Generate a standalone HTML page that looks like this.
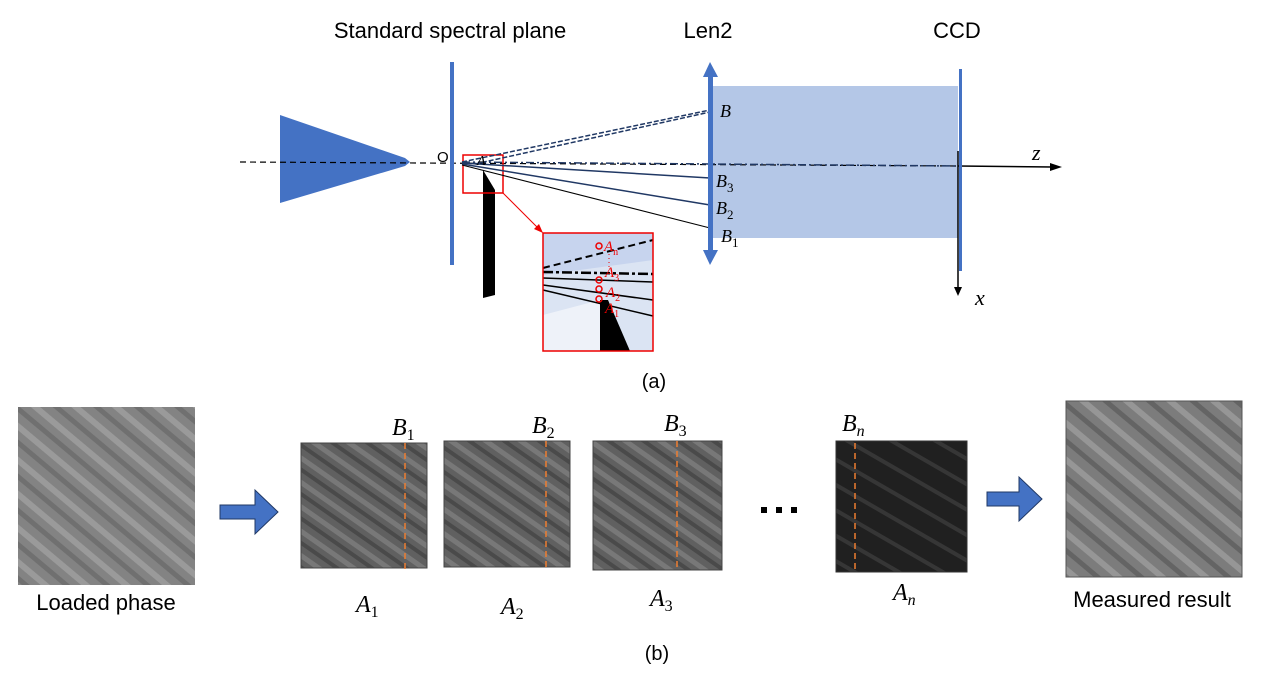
<!DOCTYPE html>
<html><head><meta charset="utf-8"><style>
body{margin:0;background:#fff}
svg{display:block}
text{font-family:"Liberation Sans",sans-serif}
text.m{font-family:"Liberation Serif",serif;font-style:italic}
</style></head><body>
<svg width="1270" height="683" viewBox="0 0 1270 683" xmlns="http://www.w3.org/2000/svg">
<defs>
<pattern id="s1" width="26" height="26" patternUnits="userSpaceOnUse" patternTransform="rotate(40)">
<rect width="26" height="26" fill="#838383"/><rect y="0" width="26" height="6" fill="#9a9a9a"/><rect y="13" width="26" height="5" fill="#707070"/></pattern>
<pattern id="s2" width="20" height="20" patternUnits="userSpaceOnUse" patternTransform="rotate(35)">
<rect width="20" height="20" fill="#606060"/><rect width="20" height="5" fill="#787878"/><rect y="10" width="20" height="4" fill="#4a4a4a"/></pattern>
<pattern id="s3" width="22" height="22" patternUnits="userSpaceOnUse" patternTransform="rotate(30)">
<rect width="22" height="22" fill="#202020"/><rect width="22" height="4" fill="#363636"/></pattern>
<pattern id="s4" width="28" height="28" patternUnits="userSpaceOnUse" patternTransform="rotate(40)">
<rect width="28" height="28" fill="#7c7c7c"/><rect width="28" height="6" fill="#969696"/><rect y="14" width="28" height="5" fill="#646464"/></pattern>
</defs>
<!-- (a) -->
<text x="450" y="38" font-size="22" text-anchor="middle">Standard spectral plane</text>
<text x="708" y="38" font-size="22" text-anchor="middle">Len2</text>
<text x="957" y="38" font-size="22" text-anchor="middle">CCD</text>
<rect x="713" y="86" width="245" height="152" fill="#b4c7e7"/>
<polygon points="280,115 405,158 410,162 405,166 280,203" fill="#4472c4"/>
<line x1="240" y1="162" x2="958" y2="166" stroke="#000" stroke-width="1.2" stroke-dasharray="6,4"/>
<line x1="958" y1="166" x2="1052" y2="167" stroke="#000" stroke-width="1.5"/>
<polygon points="1050,163 1062,167 1050,171" fill="#000"/>
<text x="1032" y="160" font-size="22" class="m">z</text>
<rect x="450" y="62" width="4" height="203" fill="#4472c4"/>
<text x="437" y="162" font-size="15">O</text>
<polygon points="483,170 495,190 495,295 483,298" fill="#000"/>
<rect x="463" y="155" width="40" height="38" fill="none" stroke="#e00" stroke-width="1.5"/>
<line x1="503" y1="193" x2="540" y2="230" stroke="#e00" stroke-width="1"/>
<polygon points="543,233 534,229 539,224" fill="#e00"/>
<g stroke="#203864" fill="none" stroke-width="1.5">
<line x1="462" y1="162" x2="710" y2="110" stroke-dasharray="5,2"/>
<line x1="475" y1="164" x2="710" y2="112" stroke-dasharray="5,2"/>
<line x1="462" y1="162" x2="958" y2="166" stroke-dasharray="8,3,2,3"/>
<line x1="462" y1="163" x2="710" y2="178"/>
<line x1="462" y1="164" x2="710" y2="205"/>
<line x1="462" y1="165" x2="710" y2="228" stroke="#000" stroke-width="1"/>
</g>
<text x="477" y="165" font-size="14" class="m">A</text>
<rect x="708" y="70" width="5" height="188" fill="#4472c4"/>
<polygon points="710,62 703,77 718,77" fill="#4472c4"/>
<polygon points="710,265 703,250 718,250" fill="#4472c4"/>
<text x="720" y="117" font-size="18" class="m">B</text>
<text x="716" y="187" font-size="18" class="m">B<tspan font-size="13" font-style="normal" dy="5">3</tspan></text>
<text x="716" y="214" font-size="18" class="m">B<tspan font-size="13" font-style="normal" dy="5">2</tspan></text>
<text x="721" y="242" font-size="18" class="m">B<tspan font-size="13" font-style="normal" dy="5">1</tspan></text>
<rect x="959" y="69" width="3" height="202" fill="#4472c4"/>
<line x1="958" y1="151" x2="958" y2="288" stroke="#000" stroke-width="1.5"/>
<polygon points="954,287 958,296 962,287" fill="#000"/>
<text x="975" y="305" font-size="22" class="m">x</text>
<!-- inset -->
<rect x="543" y="233" width="110" height="118" fill="#dbe4f3"/>
<polygon points="543,233 653,233 653,260 543,275" fill="#c7d4ee"/>
<polygon points="543,315 600,300 600,351 543,351" fill="#eef2f9"/>
<polygon points="600,300 608,300 630,351 600,351" fill="#000"/>
<line x1="543" y1="268" x2="653" y2="240" stroke="#000" stroke-width="2" stroke-dasharray="7,4"/>
<line x1="543" y1="272" x2="653" y2="274" stroke="#000" stroke-width="2.5" stroke-dasharray="10,3,3,3"/>
<line x1="543" y1="278" x2="653" y2="282" stroke="#000" stroke-width="1.5"/>
<line x1="543" y1="285" x2="653" y2="300" stroke="#000" stroke-width="1.5"/>
<line x1="543" y1="290" x2="653" y2="316" stroke="#000" stroke-width="1.5"/>
<g fill="none" stroke="#e00" stroke-width="1.5">
<circle cx="599" cy="246" r="3"/><circle cx="599" cy="280" r="3"/><circle cx="599" cy="289" r="3"/><circle cx="599" cy="299" r="3"/>
</g>
<line x1="609" y1="254" x2="609" y2="268" stroke="#e00" stroke-dasharray="1,3"/>
<text x="604" y="251" font-size="15" fill="#e00" class="m">A<tspan font-size="10" font-style="normal" dy="4">n</tspan></text>
<text x="605" y="277" font-size="15" fill="#e00" class="m">A<tspan font-size="10" font-style="normal" dy="4">3</tspan></text>
<text x="606" y="297" font-size="15" fill="#e00" class="m">A<tspan font-size="10" font-style="normal" dy="4">2</tspan></text>
<text x="605" y="313" font-size="15" fill="#e00" class="m">A<tspan font-size="10" font-style="normal" dy="4">1</tspan></text>
<rect x="543" y="233" width="110" height="118" fill="none" stroke="#e00" stroke-width="1.5"/>
<text x="654" y="388" font-size="20" text-anchor="middle">(a)</text>
<!-- (b) -->
<rect x="18" y="407" width="177" height="178" fill="url(#s1)"/>
<text x="106" y="610" font-size="22" text-anchor="middle">Loaded phase</text>
<polygon points="220,505 255,505 255,490 278,512 255,534 255,519 220,519" fill="#4472c4" stroke="#203864"/>
<rect x="301" y="443" width="126" height="125" fill="url(#s2)" stroke="#444"/>
<line x1="405" y1="443" x2="405" y2="570" stroke="#ed7d31" stroke-width="1.5" stroke-dasharray="6,4"/>
<rect x="444" y="441" width="126" height="126" fill="url(#s2)" stroke="#444"/>
<line x1="546" y1="441" x2="546" y2="567" stroke="#ed7d31" stroke-width="1.5" stroke-dasharray="6,4"/>
<rect x="593" y="441" width="129" height="129" fill="url(#s2)" stroke="#444"/>
<line x1="677" y1="441" x2="677" y2="570" stroke="#ed7d31" stroke-width="1.5" stroke-dasharray="6,4"/>
<rect x="836" y="441" width="131" height="131" fill="url(#s3)" stroke="#333"/>
<line x1="855" y1="443" x2="855" y2="572" stroke="#ed7d31" stroke-width="1.5" stroke-dasharray="6,4"/>
<text x="392" y="435" font-size="24" class="m">B<tspan font-size="16" font-style="normal" dy="5">1</tspan></text>
<text x="532" y="433" font-size="24" class="m">B<tspan font-size="16" font-style="normal" dy="5">2</tspan></text>
<text x="664" y="431" font-size="24" class="m">B<tspan font-size="16" font-style="normal" dy="5">3</tspan></text>
<text x="842" y="431" font-size="24" class="m">B<tspan font-size="16" dy="5">n</tspan></text>
<text x="356" y="612" font-size="24" class="m">A<tspan font-size="16" font-style="normal" dy="5">1</tspan></text>
<text x="501" y="614" font-size="24" class="m">A<tspan font-size="16" font-style="normal" dy="5">2</tspan></text>
<text x="650" y="606" font-size="24" class="m">A<tspan font-size="16" font-style="normal" dy="5">3</tspan></text>
<text x="893" y="600" font-size="24" class="m">A<tspan font-size="16" dy="5">n</tspan></text>
<g fill="#000"><rect x="761" y="507" width="6" height="6"/><rect x="776" y="507" width="6" height="6"/><rect x="791" y="507" width="6" height="6"/></g>
<polygon points="987,492 1019,492 1019,477 1042,499 1019,521 1019,506 987,506" fill="#4472c4" stroke="#203864"/>
<rect x="1066" y="401" width="176" height="176" fill="url(#s4)" stroke="#555"/>
<text x="1152" y="607" font-size="22" text-anchor="middle">Measured result</text>
<text x="657" y="660" font-size="20" text-anchor="middle">(b)</text>
</svg>
</body></html>
